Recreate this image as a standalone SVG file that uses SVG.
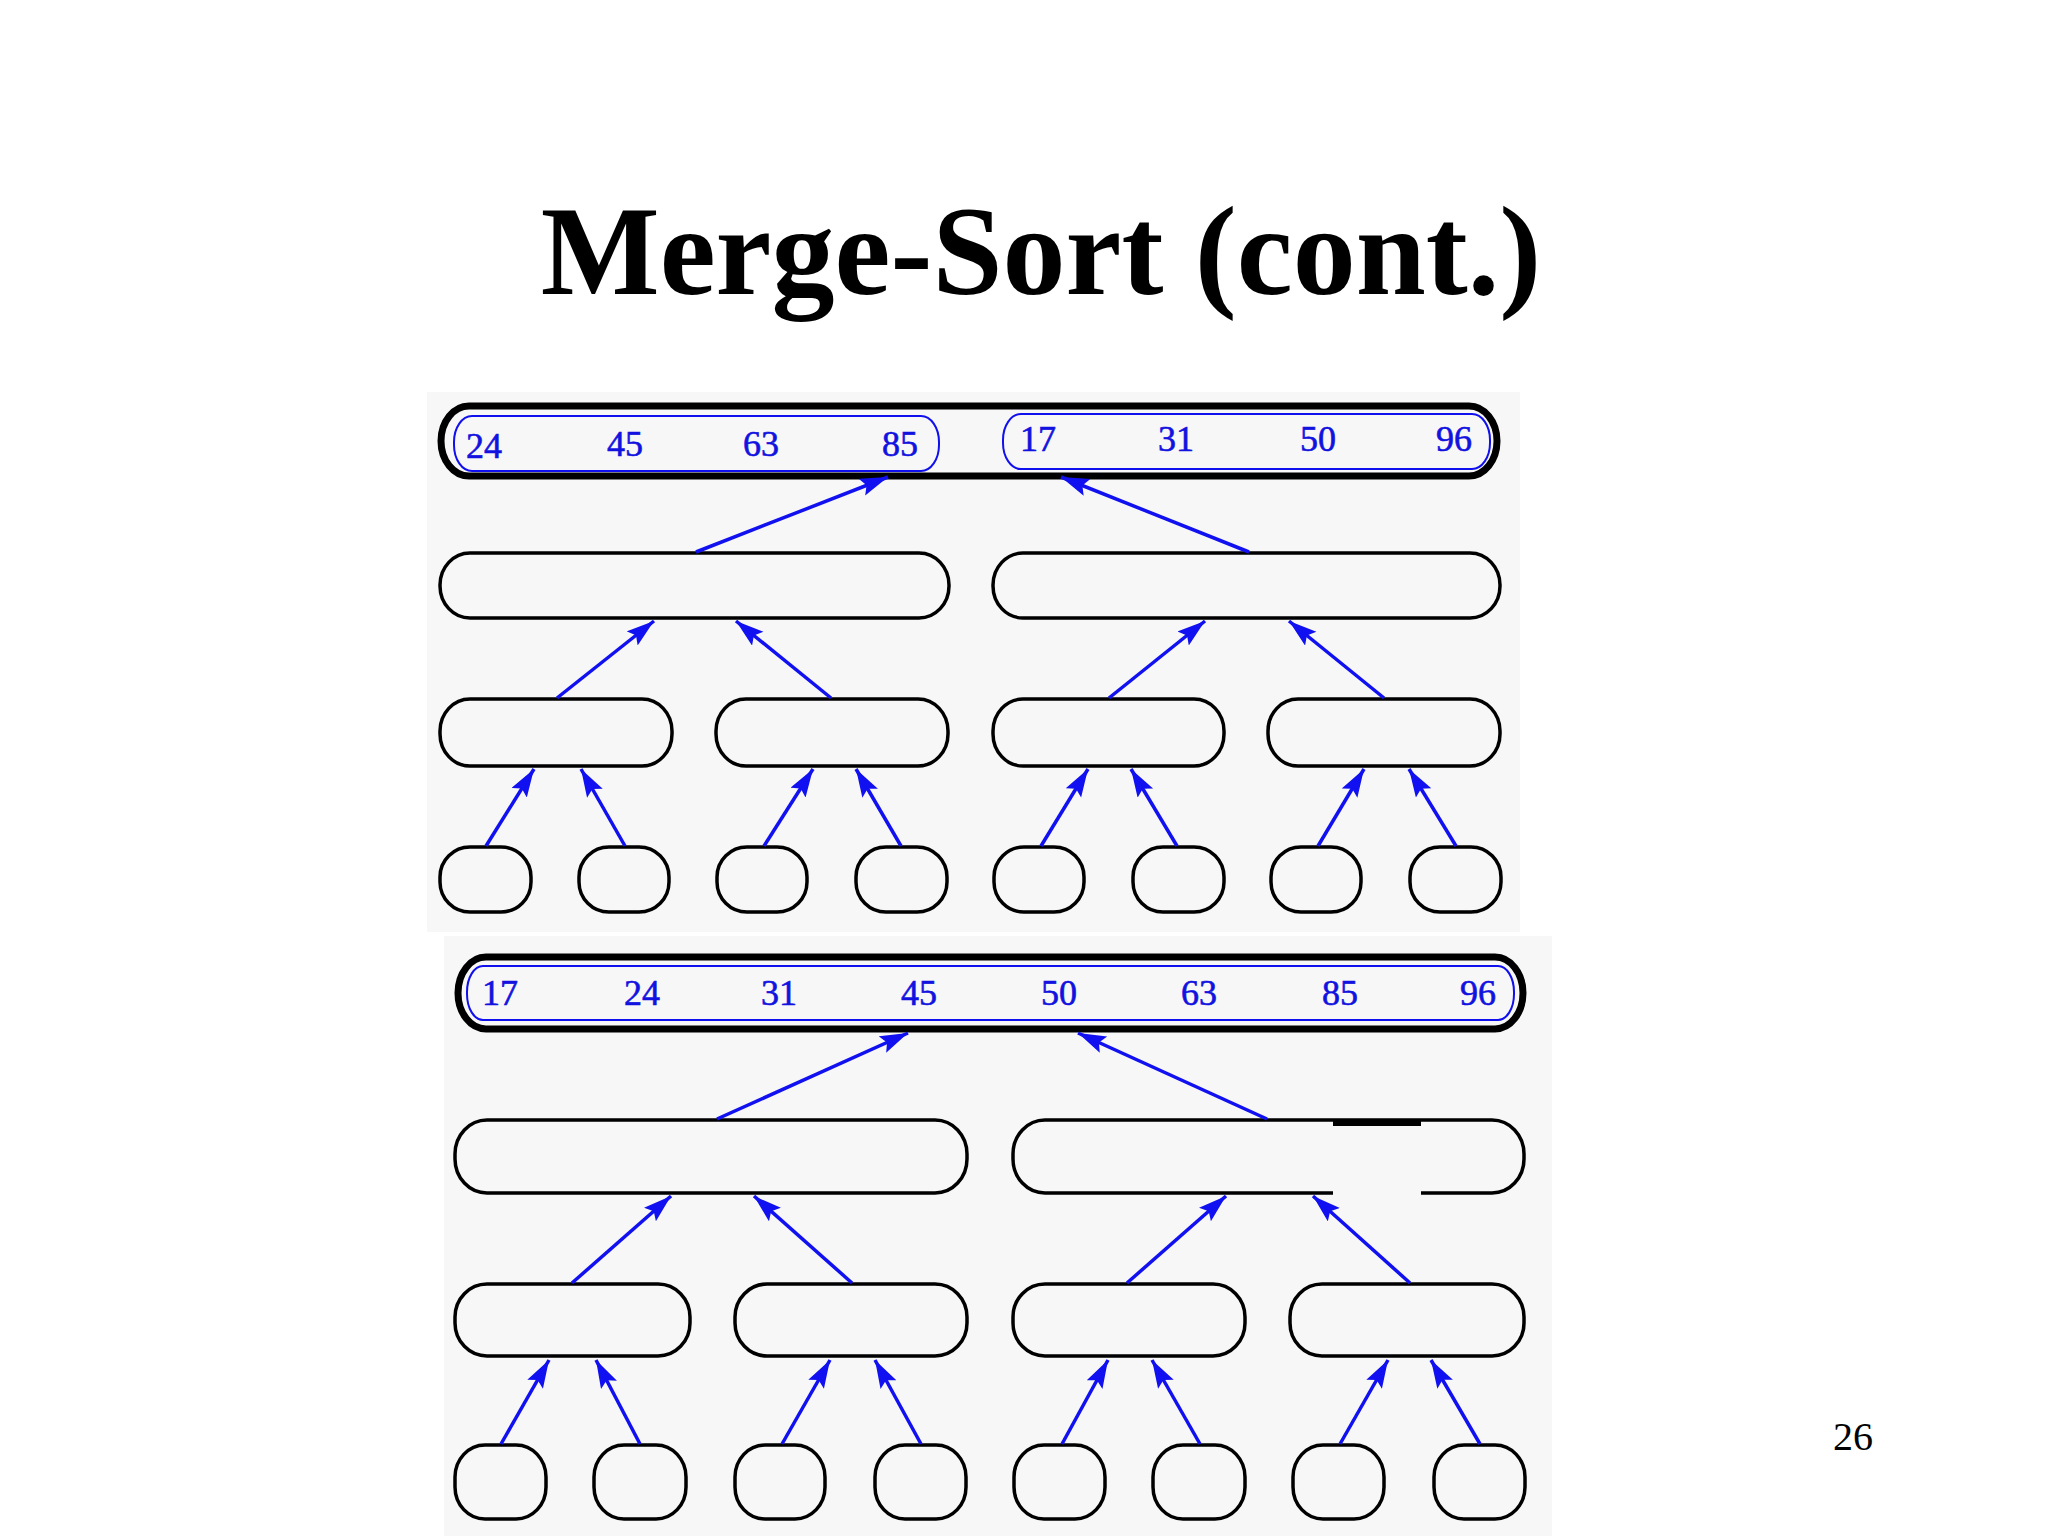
<svg xmlns="http://www.w3.org/2000/svg" width="2048" height="1536" viewBox="0 0 2048 1536">
<style>
.bg{fill:#f7f7f7;stroke:none}
.outer{fill:none;stroke:#000;stroke-width:7}
.pill{fill:none;stroke:#1010ee;stroke-width:2}
.node{fill:none;stroke:#000;stroke-width:3.5}
.num{font-family:"Liberation Serif","Times New Roman",serif;font-size:36px;fill:#1212e0;stroke:#1212e0;stroke-width:0.6;text-anchor:middle}
.edge{stroke:#1010f0;stroke-width:3.5;fill:none;marker-end:url(#ah)}
.title{font-family:"Liberation Serif","Times New Roman",serif;font-weight:bold;font-size:126px;fill:#000;text-anchor:middle}
.pg{font-family:"Liberation Serif","Times New Roman",serif;font-size:40px;fill:#000;text-anchor:middle}
</style>
<defs>
<marker id="ah" markerUnits="userSpaceOnUse" markerWidth="30" markerHeight="20" refX="28" refY="9" orient="auto">
<path d="M0,0 L28,9 L0,18 L5,9 z" fill="#1010f0"/>
</marker>
</defs>
<rect width="2048" height="1536" fill="#fff"/>
<text class="title" x="1041" y="294">Merge-Sort (cont.)</text>
<text class="pg" x="1853" y="1450">26</text>

<!-- top panel -->
<g id="panel-top">
<rect class="bg" x="427" y="392" width="1093" height="540"/>
<g id="t-root">
<rect class="outer" x="441" y="406" width="1056" height="70" rx="28" ry="35"/>
<rect class="pill" x="454" y="416" width="485" height="55" rx="18" ry="26"/>
<rect class="pill" x="1003" y="414" width="487" height="55" rx="18" ry="26"/>
<text class="num" x="484" y="458">24</text>
<text class="num" x="625" y="456">45</text>
<text class="num" x="761" y="456">63</text>
<text class="num" x="900" y="456">85</text>
<text class="num" x="1038" y="451">17</text>
<text class="num" x="1176" y="451">31</text>
<text class="num" x="1318" y="451">50</text>
<text class="num" x="1454" y="451">96</text>
</g>
<g id="t-l2a"><rect class="node" x="440" y="553" width="509" height="65" rx="30" ry="32"/></g>
<g id="t-l2b"><rect class="node" x="993" y="553" width="507" height="65" rx="30" ry="32"/></g>
<g id="t-l3a"><rect class="node" x="440" y="699" width="232" height="67" rx="30" ry="32"/></g>
<g id="t-l3b"><rect class="node" x="716" y="699" width="232" height="67" rx="30" ry="32"/></g>
<g id="t-l3c"><rect class="node" x="993" y="699" width="231" height="67" rx="30" ry="32"/></g>
<g id="t-l3d"><rect class="node" x="1268" y="699" width="232" height="67" rx="30" ry="32"/></g>
<g id="t-leaf1"><rect class="node" x="440" y="847" width="91" height="65" rx="30" ry="30"/></g>
<g id="t-leaf2"><rect class="node" x="579" y="847" width="90" height="65" rx="30" ry="30"/></g>
<g id="t-leaf3"><rect class="node" x="717" y="847" width="90" height="65" rx="30" ry="30"/></g>
<g id="t-leaf4"><rect class="node" x="856" y="847" width="91" height="65" rx="30" ry="30"/></g>
<g id="t-leaf5"><rect class="node" x="994" y="847" width="90" height="65" rx="30" ry="30"/></g>
<g id="t-leaf6"><rect class="node" x="1133" y="847" width="91" height="65" rx="30" ry="30"/></g>
<g id="t-leaf7"><rect class="node" x="1271" y="847" width="90" height="65" rx="30" ry="30"/></g>
<g id="t-leaf8"><rect class="node" x="1410" y="847" width="91" height="65" rx="30" ry="30"/></g>
</g>

<!-- bottom panel -->
<g id="panel-bottom">
<rect class="bg" x="444" y="936" width="1108" height="600"/>
<g id="b-root">
<rect class="outer" x="458" y="957" width="1065" height="72" rx="28" ry="36"/>
<rect class="pill" x="467" y="966" width="1047" height="54" rx="16" ry="26"/>
<text class="num" x="500" y="1005">17</text>
<text class="num" x="642" y="1005">24</text>
<text class="num" x="779" y="1005">31</text>
<text class="num" x="919" y="1005">45</text>
<text class="num" x="1059" y="1005">50</text>
<text class="num" x="1199" y="1005">63</text>
<text class="num" x="1340" y="1005">85</text>
<text class="num" x="1478" y="1005">96</text>
</g>
<g id="b-l2a"><rect class="node" x="455" y="1120" width="512" height="73" rx="32" ry="34"/></g>
<g id="b-l2b">
<path class="node" d="M1333,1193 H1045 A32,34 0 0 1 1013,1159 V1154 A32,34 0 0 1 1045,1120 H1492 A32,34 0 0 1 1524,1154 V1159 A32,34 0 0 1 1492,1193 H1421"/>
<line x1="1333" y1="1123" x2="1421" y2="1123" stroke="#000" stroke-width="6"/>
</g>
<g id="b-l3a"><rect class="node" x="455" y="1284" width="235" height="72" rx="32" ry="33"/></g>
<g id="b-l3b"><rect class="node" x="735" y="1284" width="232" height="72" rx="32" ry="33"/></g>
<g id="b-l3c"><rect class="node" x="1013" y="1284" width="232" height="72" rx="32" ry="33"/></g>
<g id="b-l3d"><rect class="node" x="1290" y="1284" width="234" height="72" rx="32" ry="33"/></g>
<g id="b-leaf1"><rect class="node" x="455" y="1445" width="91" height="74" rx="30" ry="32"/></g>
<g id="b-leaf2"><rect class="node" x="594" y="1445" width="92" height="74" rx="30" ry="32"/></g>
<g id="b-leaf3"><rect class="node" x="735" y="1445" width="90" height="74" rx="30" ry="32"/></g>
<g id="b-leaf4"><rect class="node" x="875" y="1445" width="91" height="74" rx="30" ry="32"/></g>
<g id="b-leaf5"><rect class="node" x="1014" y="1445" width="91" height="74" rx="30" ry="32"/></g>
<g id="b-leaf6"><rect class="node" x="1153" y="1445" width="92" height="74" rx="30" ry="32"/></g>
<g id="b-leaf7"><rect class="node" x="1293" y="1445" width="91" height="74" rx="30" ry="32"/></g>
<g id="b-leaf8"><rect class="node" x="1434" y="1445" width="91" height="74" rx="30" ry="32"/></g>
</g>

<g id="connectors">
<!-- top panel -->
<line class="edge" x1="696" y1="552" x2="888" y2="477"/>
<line class="edge" x1="1249" y1="552" x2="1061" y2="477"/>
<line class="edge" x1="557" y1="698" x2="654" y2="621"/>
<line class="edge" x1="831" y1="698" x2="736" y2="621"/>
<line class="edge" x1="1109" y1="698" x2="1205" y2="621"/>
<line class="edge" x1="1384" y1="698" x2="1289" y2="621"/>
<line class="edge" x1="486" y1="846" x2="534" y2="769"/>
<line class="edge" x1="625" y1="846" x2="581" y2="769"/>
<line class="edge" x1="764" y1="846" x2="813" y2="769"/>
<line class="edge" x1="901" y1="846" x2="856" y2="769"/>
<line class="edge" x1="1041" y1="846" x2="1088" y2="769"/>
<line class="edge" x1="1177" y1="846" x2="1131" y2="769"/>
<line class="edge" x1="1318" y1="846" x2="1364" y2="769"/>
<line class="edge" x1="1456" y1="846" x2="1409" y2="769"/>
<!-- bottom panel -->
<line class="edge" x1="717" y1="1119" x2="908" y2="1033"/>
<line class="edge" x1="1267" y1="1119" x2="1078" y2="1033"/>
<line class="edge" x1="572" y1="1283" x2="671" y2="1196"/>
<line class="edge" x1="852" y1="1283" x2="754" y2="1196"/>
<line class="edge" x1="1127" y1="1283" x2="1226" y2="1196"/>
<line class="edge" x1="1410" y1="1283" x2="1313" y2="1196"/>
<line class="edge" x1="501" y1="1444" x2="549" y2="1360"/>
<line class="edge" x1="640" y1="1444" x2="596" y2="1360"/>
<line class="edge" x1="782" y1="1444" x2="830" y2="1360"/>
<line class="edge" x1="921" y1="1444" x2="875" y2="1360"/>
<line class="edge" x1="1062" y1="1444" x2="1108" y2="1360"/>
<line class="edge" x1="1200" y1="1444" x2="1152" y2="1360"/>
<line class="edge" x1="1340" y1="1444" x2="1388" y2="1360"/>
<line class="edge" x1="1480" y1="1444" x2="1431" y2="1360"/>
</g>
</svg>
